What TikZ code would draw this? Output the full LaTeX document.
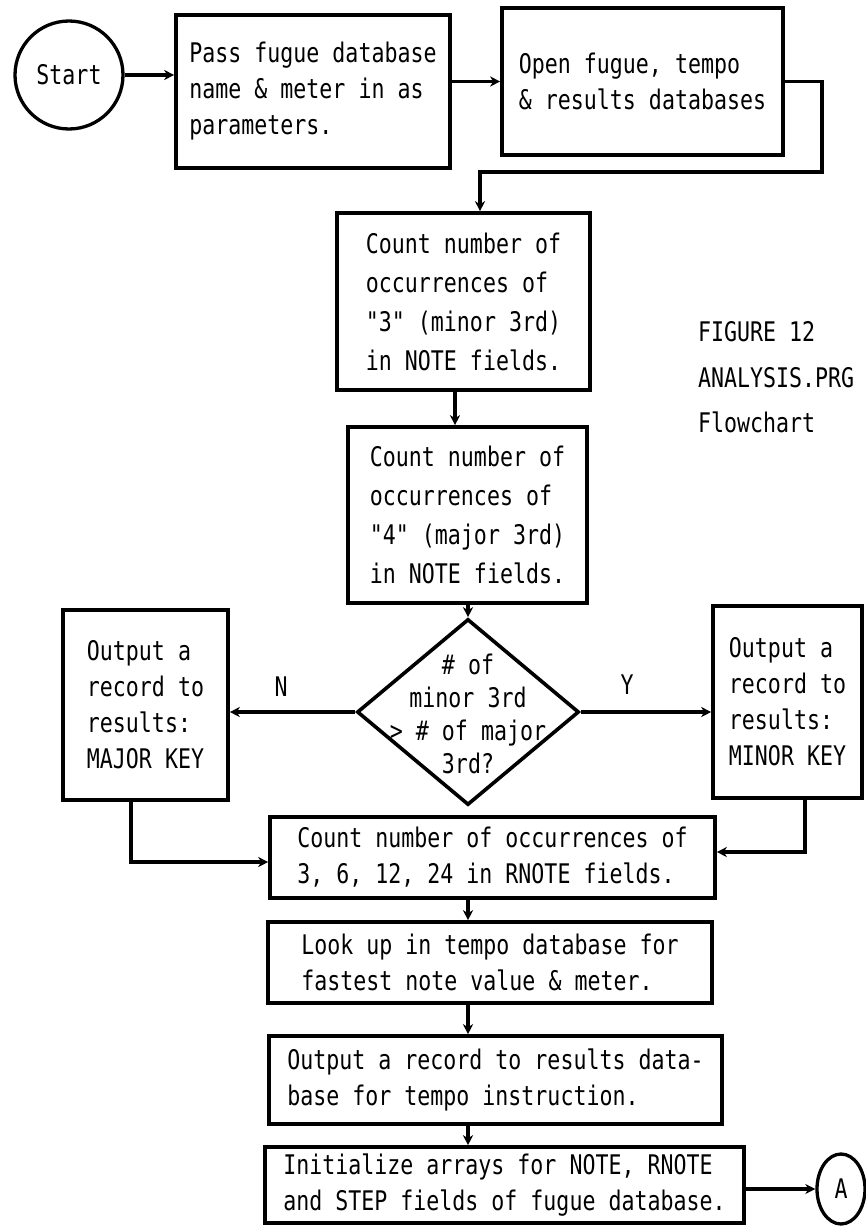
\documentclass[tikz,border=0pt]{standalone}
\usepackage{fontspec}
\newfontfamily\dotfont[FakeStretch=0.8]{DejaVu Sans Mono}
\usetikzlibrary{shapes.geometric,arrows.meta}
\begin{document}
\begin{tikzpicture}[x=1pt,y=-1pt,
  every node/.style={font=\dotfont\fontsize{27}{36}\selectfont},
  box/.style={draw, rectangle, line width=3.6pt, align=left, inner sep=0pt},
  circ/.style={draw, circle, line width=3.3pt, inner sep=0pt},
  lbl/.style={inner sep=0pt},
  arr/.style={line width=3.3pt, -{Stealth[length=10pt,width=10pt,inset=3pt]}}]
\useasboundingbox (0,0) rectangle (866,1226);
% nodes
\node[circ, minimum size=108pt] (start) at (69,75) {Start};
\node[box, minimum width=274pt, minimum height=153pt] (b1) at (313,91.5)
  {Pass fugue database\\name \& meter in as\\parameters.};
\node[box, minimum width=281pt, minimum height=147pt] (b2) at (642.5,81.5)
  {Open fugue, tempo\\\& results databases};
\node[box, minimum width=253pt, minimum height=177pt, font=\dotfont\fontsize{27}{39}\selectfont] (b3) at (463.5,301.5)
  {Count number of\\occurrences of\\"3" (minor 3rd)\\in NOTE fields.};
\node[box, minimum width=239pt, minimum height=176pt, font=\dotfont\fontsize{27}{39}\selectfont] (b4) at (467.5,515)
  {Count number of\\occurrences of\\"4" (major 3rd)\\in NOTE fields.};
\node[draw, diamond, line width=3.6pt, minimum width=222pt, minimum height=186pt, inner sep=0pt] (d) at (468,712) {};
\node[lbl, align=center, font=\dotfont\fontsize{27}{33}\selectfont] (dtext) at (468,714)
  {\# of\\minor 3rd\\> \# of major\\3rd?};
\node[box, minimum width=165pt, minimum height=190pt] (major) at (145.5,705)
  {Output a\\record to\\results:\\MAJOR KEY};
\node[box, minimum width=149pt, minimum height=192pt] (minor) at (787.5,702)
  {Output a\\record to\\results:\\MINOR KEY};
\node[lbl] (n) at (281,687) {N};
\node[lbl] (y) at (627,685) {Y};
\node[box, minimum width=445pt, minimum height=81pt] (b5) at (492.5,857.5)
  {Count number of occurrences of\\3, 6, 12, 24 in RNOTE fields.};
\node[box, minimum width=444pt, minimum height=81pt] (b6) at (490,962.5)
  {Look up in tempo database for\\fastest note value \& meter.};
\node[box, minimum width=453pt, minimum height=88pt] (b7) at (495.5,1080)
  {Output a record to results data-\\base for tempo instruction.};
\node[box, minimum width=479pt, minimum height=76pt] (b8) at (504.5,1185)
  {Initialize arrays for NOTE, RNOTE\\and STEP fields of fugue database.};
\node[draw, ellipse, line width=3.3pt, minimum width=48pt, minimum height=70pt, inner sep=0pt] (a) at (841,1189) {A};
\node[lbl, anchor=west] (t1) at (698,332) {FIGURE 12};
\node[lbl, anchor=west] (t2) at (698,378) {ANALYSIS.PRG};
\node[lbl, anchor=west] (t3) at (698,422) {Flowchart};
% coordinates
\coordinate (c1) at (822,172);
\coordinate (c2) at (480,172);
\coordinate (v1) at (455,0);
\coordinate (m1) at (131,862);
\coordinate (m2) at (805,852);
\coordinate (v2) at (468,0);
% connectors
\draw[arr] (start.east) -- (start.east -| b1.west);
\draw[arr] (b2.west -| b1.east) -- (b2.west);
\draw[arr] (b2.east) -| (c1) -- (c2) -- (c2 |- b3.north);
\draw[arr] (v1 |- b3.south) -- (v1 |- b4.north);
\draw[arr] (d.north |- b4.south) -- (d.north);
\draw[arr] (d.west) -- (d.west -| major.east);
\draw[arr] (d.east) -- (d.east -| minor.west);
\draw[arr] (m1 |- major.south) -- (m1) -- (m1 -| b5.west);
\draw[arr] (m2 |- minor.south) -- (m2) -- (m2 -| b5.east);
\draw[arr] (v2 |- b5.south) -- (v2 |- b6.north);
\draw[arr] (v2 |- b6.south) -- (v2 |- b7.north);
\draw[arr] (v2 |- b7.south) -- (v2 |- b8.north);
\draw[arr] (a.west -| b8.east) -- (a.west);
\end{tikzpicture}
\end{document}
